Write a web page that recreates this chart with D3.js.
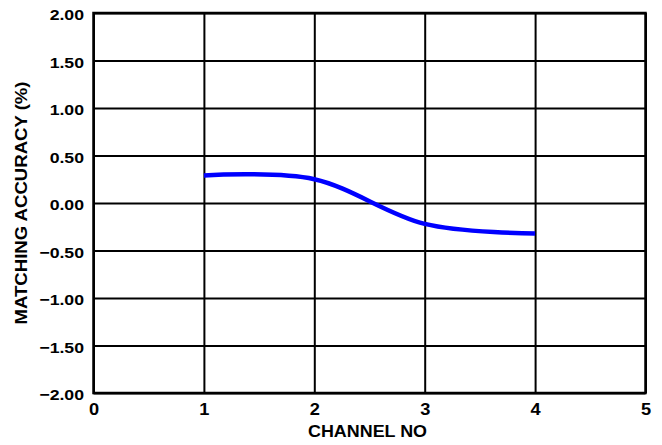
<!DOCTYPE html>
<html>
<head>
<meta charset="utf-8">
<script src="https://cdn.jsdelivr.net/npm/d3@7"></script>
<style>
  body { margin: 0; background: #fff; }
  svg text { font-family: "Liberation Sans", Arial, sans-serif; font-weight: bold; fill: #000; }
</style>
</head>
<body>
<div id="chart"></div>
<script>
const channels = [1, 2, 3, 4];
const accuracy = [0.29, 0.25, -0.22, -0.32];
const xTicks = [0, 1, 2, 3, 4, 5];
const yTicks = [-2, -1.5, -1, -0.5, 0, 0.5, 1, 1.5, 2];

const width = 662, height = 445;
const margin = { left: 93.5, right: 16.5, top: 13, bottom: 52 };

const svg = d3.select("#chart").append("svg")
    .attr("width", width)
    .attr("height", height);

const x = d3.scaleLinear().domain([0, 5]).range([margin.left, width - margin.right]);
const y = d3.scaleLinear().domain([-2, 2]).range([height - margin.bottom, margin.top]);

// the labels in the original are a bit wider than the font, so stretch them
const stretch = 1.14;

// grid lines (axis ticks stretched across the plot)
svg.append("g")
    .attr("transform", `translate(0,${height - margin.bottom})`)
    .call(d3.axisBottom(x).tickValues(xTicks).tickSize(-(y.range()[0] - y.range()[1])).tickFormat(d3.format("d")))
    .call(g => g.select(".domain").remove())
    .call(g => g.selectAll("line").attr("stroke", "#000").attr("stroke-width", 2))
    .call(g => g.selectAll("text").attr("font-size", 16).attr("dy", null).attr("y", 22.5)
        .attr("transform", `scale(${stretch},1)`));

svg.append("g")
    .attr("transform", `translate(${margin.left},0)`)
    .call(d3.axisLeft(y).tickValues(yTicks).tickSize(-(x.range()[1] - x.range()[0])).tickFormat(d3.format(".2f")))
    .call(g => g.select(".domain").remove())
    .call(g => g.selectAll("line").attr("stroke", "#000").attr("stroke-width", 2))
    .call(g => g.selectAll("text").attr("font-size", 15.5).attr("x", -9.5 / stretch).attr("dy", "0.42em")
        .attr("transform", `scale(${stretch},1)`));

// plot frame
svg.append("rect")
    .attr("x", x(0)).attr("y", y(2))
    .attr("width", x(5) - x(0)).attr("height", y(-2) - y(2))
    .attr("fill", "none").attr("stroke", "#000").attr("stroke-width", 2.5);

const line = d3.line()
    .x((d, i) => x(channels[i]))
    .y(d => y(d))
    .curve(d3.curveCardinal.tension(0));

svg.append("path")
    .datum(accuracy)
    .attr("d", line)
    .attr("fill", "none")
    .attr("stroke", "#0000ff")
    .attr("stroke-width", 4.5);

svg.append("text")
    .attr("x", (x(0) + x(5)) / 2 - 2)
    .attr("y", 437)
    .attr("text-anchor", "middle")
    .attr("font-size", 16.5)
    .attr("textLength", 119)
    .attr("lengthAdjust", "spacingAndGlyphs")
    .text("CHANNEL NO");

svg.append("text")
    .attr("transform", `translate(27,${y(0)}) rotate(-90)`)
    .attr("text-anchor", "middle")
    .attr("font-size", 16.5)
    .attr("textLength", 243)
    .attr("lengthAdjust", "spacingAndGlyphs")
    .text("MATCHING ACCURACY (%)");
</script>
</body>
</html>
